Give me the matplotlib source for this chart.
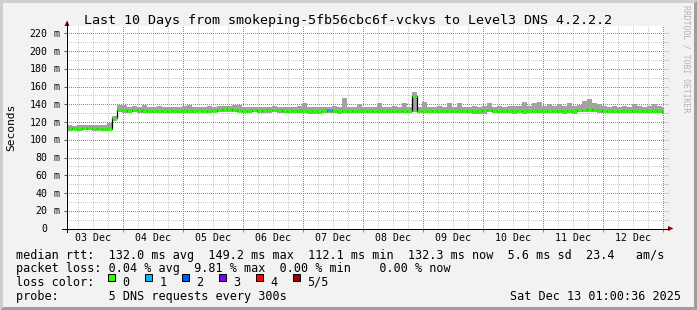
import numpy as np
import matplotlib
matplotlib.use("Agg")
import matplotlib.pyplot as plt
from matplotlib.patches import Polygon, Rectangle
from matplotlib import transforms

MONO = "DejaVu Sans Mono"
plt.rcParams["lines.scale_dashes"] = False

# ---- data ----
title = "Last 10 Days from smokeping-5fb56cbc6f-vckvs to Level3 DNS 4.2.2.2"

# hours after 03 Dec 00:00; one bin every 2 h
start_h = 1.5
step_h = 2.0
end_h = 240.3

median_ms = [
    113.0, 112.5, 112.5, 113.0, 113.5, 113.0, 112.5, 112.5, 112.5, 125.0,
    133.5, 133.5, 133.0, 133.5, 133.5, 133.0, 133.0, 132.5, 133.0, 133.0,
    132.5, 132.5, 132.0, 132.5, 132.5, 133.0, 133.0, 133.0, 133.0, 133.0,
    133.5, 134.5, 135.0, 134.0, 133.0, 133.0, 133.0, 133.5, 133.0, 133.5,
    133.5, 133.5, 133.5, 133.0, 133.0, 133.0, 133.0, 133.0, 132.5, 132.5,
    132.5, 132.5, 133.5, 133.0, 133.0, 133.0, 133.0, 133.0, 133.0, 132.5,
    133.0, 132.5, 132.5, 133.0, 132.5, 132.5, 133.0, 132.5, 133.0, 149.2,
    133.0, 133.0, 133.0, 133.0, 133.0, 133.0, 133.0, 133.0, 133.0, 133.0,
    132.5, 132.5, 132.5, 134.0, 134.0, 132.5, 132.5, 132.5, 132.5, 132.5,
    132.5, 133.0, 133.0, 133.0, 133.0, 133.0, 133.0, 133.0, 133.0, 132.0,
    132.0, 132.0, 134.0, 134.0, 134.5, 134.0, 134.0, 132.5, 132.5, 132.5,
    132.5, 132.5, 132.5, 132.5, 132.5, 132.5, 133.0, 133.0, 133.0, 131.5,
]
smoke_hi = [
    116.5, 116.0, 116.5, 117.0, 116.5, 117.0, 116.5, 117.0, 119.5, 127.0,
    139.5, 139.0, 137.5, 138.0, 137.5, 139.0, 137.5, 137.0, 138.0, 137.5,
    137.0, 137.5, 137.0, 138.0, 139.0, 137.5, 137.0, 137.5, 138.0, 137.5,
    138.0, 138.5, 138.5, 139.5, 139.0, 137.5, 137.0, 137.5, 137.0, 137.5,
    137.5, 138.0, 137.0, 137.5, 137.0, 137.5, 138.0, 141.5, 137.5, 137.0,
    137.5, 137.0, 137.5, 138.0, 137.5, 147.0, 137.5, 137.0, 140.5, 137.5,
    137.0, 137.5, 141.0, 137.5, 137.0, 138.0, 137.5, 141.0, 137.5, 154.0,
    137.5, 143.0, 137.5, 137.0, 138.0, 137.5, 141.5, 137.5, 141.0, 137.5,
    137.0, 138.5, 137.5, 138.0, 141.0, 137.5, 138.0, 137.5, 138.5, 138.0,
    138.0, 142.5, 138.5, 141.5, 142.5, 138.5, 140.5, 138.0, 140.5, 138.5,
    141.5, 138.5, 139.0, 144.0, 145.5, 141.5, 140.5, 138.0, 137.5, 138.0,
    137.5, 138.0, 137.5, 140.5, 138.0, 137.5, 138.0, 140.5, 138.0, 137.5,
]
smoke_lo = [
    110.0, 110.5, 110.0, 110.5, 110.5, 110.0, 110.5, 110.0, 110.5, 121.5,
    131.0, 130.5, 130.5, 131.0, 130.5, 130.0, 130.0, 130.5, 130.0, 130.5,
    130.5, 130.0, 130.5, 130.0, 130.5, 130.5, 131.0, 130.5, 130.5, 131.0,
    131.0, 131.5, 131.5, 131.0, 131.0, 130.5, 130.5, 131.0, 130.5, 130.5,
    130.5, 131.0, 130.5, 130.0, 130.0, 130.5, 130.0, 130.5, 129.5, 129.5,
    129.5, 130.0, 130.5, 130.5, 129.5, 130.5, 130.0, 130.5, 130.5, 130.0,
    130.5, 130.0, 130.5, 130.0, 130.5, 130.5, 130.0, 130.5, 130.0, 131.0,
    130.5, 130.5, 130.0, 130.5, 130.5, 130.0, 130.5, 130.5, 130.0, 130.5,
    130.0, 129.0, 129.0, 129.5, 131.0, 130.0, 130.0, 130.5, 130.0, 129.5,
    130.0, 129.0, 130.0, 130.5, 130.5, 130.0, 130.5, 130.5, 130.0, 129.5,
    130.0, 129.5, 131.0, 131.5, 131.0, 131.0, 130.5, 130.0, 130.0, 130.5,
    130.0, 130.5, 130.0, 130.0, 130.5, 130.0, 130.0, 130.5, 130.0, 129.5,
]
lost_pings = {52: 1}   # bin index -> lost pings out of 5

day_labels = ["03 Dec", "04 Dec", "05 Dec", "06 Dec", "07 Dec",
              "08 Dec", "09 Dec", "10 Dec", "11 Dec", "12 Dec"]
y_ticks = [0, 20, 40, 60, 80, 100, 120, 140, 160, 180, 200, 220]

loss_colors = ["#26ff00", "#00b8ff", "#0059ff", "#7e00ff", "#ff0000", "#a10000"]
loss_names = ["0", "1", "2", "3", "4", "5/5"]

legend_lines = [
    "median rtt:  132.0 ms avg  149.2 ms max  112.1 ms min  132.3 ms now  5.6 ms sd  23.4   am/s",
    "packet loss: 0.04 % avg  9.81 % max  0.00 % min    0.00 % now",
    "loss color:",
    "probe:       5 DNS requests every 300s",
]
stamp = "Sat Dec 13 01:00:36 2025"

# ---- figure, pixel layout ----
W, H = 697, 310
X0, X1, Y0, Y1 = 67, 664, 228.5, 26

fig = plt.figure(figsize=(W / 100, H / 100), dpi=100)

bg = fig.add_axes([0, 0, 1, 1], zorder=0)
bg.set_xlim(0, W)
bg.set_ylim(H, 0)
bg.axis("off")
bg.add_patch(Rectangle((0, 0), W, H, fc="#9e9e9e", lw=0, antialiased=False))
bg.add_patch(Polygon([(0, 0), (W, 0), (W - 3, 3), (3, 3), (3, H - 3), (0, H)],
                     fc="#cfcfcf", lw=0, antialiased=False))
bg.add_patch(Rectangle((3, 3), W - 6, H - 6, fc="#f2f2f2", lw=0, antialiased=False))

ax = fig.add_axes([X0 / W, 1 - Y0 / H, (X1 - X0) / W, (Y0 - Y1) / H], zorder=1)
ax.set_facecolor("white")
ax.set_xlim(start_h, end_h)
ax.set_ylim(0, 228.3)
for s in ax.spines.values():
    s.set_visible(False)

ax.set_xticks(np.arange(24, 241, 24))
ax.set_yticks(y_ticks)
ax.tick_params(which="both", labelbottom=False, labelleft=False)
ax.tick_params(axis="y", which="major", direction="out", length=2.5, width=0.72, color="#606060")
ax.tick_params(axis="x", which="major", direction="out", length=1.8, width=0.72, color="#909090")

# dotted grid, 1 px on / 1 px off
dots = (0.36, (0.72, 0.72))
minor_x = [h for h in range(6, 241, 6) if h % 24]
minor_y = list(range(10, 221, 20))
for h in minor_x:
    ax.axvline(h, color="#c8c8c8", ls=dots, lw=0.72, zorder=0.5)
for v in minor_y:
    ax.axhline(v, color="#c8c8c8", ls=dots, lw=0.72, zorder=0.5)
for h in range(24, 241, 24):
    ax.axvline(h, color="#ff5a5a", ls=dots, lw=0.72, zorder=0.6)
for v in y_ticks[1:]:
    ax.axhline(v, color="#ff5a5a", ls=dots, lw=0.72, zorder=0.6)

# short marks right of the plot
ax.hlines(np.arange(10, 221, 10), 1.0, 1.0 + 4 / (X1 - X0), transform=ax.get_yaxis_transform(),
          clip_on=False, color="#c8c8c8", lw=0.72)

# smoke + median
t = start_h + step_h * np.arange(len(median_ms))
hi = np.array(smoke_hi)
lo = np.array(smoke_lo)
ax.bar(t, hi - lo, bottom=lo, width=step_h, align="edge", color="#a2a2a2", lw=0, zorder=2)
ax.step(np.append(t, t[-1] + step_h), np.append(median_ms, median_ms[-1]), where="post",
        color="black", lw=0.9, zorder=3)
cols = [loss_colors[lost_pings.get(i, 0)] for i in range(len(median_ms))]
ax.hlines(median_ms, t, t + step_h, colors=cols, lw=1.9, zorder=4)

# ---- front layer: axes lines, arrows, texts ----
fa = fig.add_axes([0, 0, 1, 1], zorder=3)
fa.patch.set_visible(False)
fa.set_xlim(0, W)
fa.set_ylim(H, 0)
fa.axis("off")

fa.plot([62, 668], [Y0, Y0], color="black", lw=0.72)
fa.plot([X0, X0], [232, 22], color="black", lw=0.72)
fa.add_patch(Polygon([(64.5, 26), (69.5, 26), (67, 20.5)], fc="#8b0000", lw=0))
fa.add_patch(Polygon([(668, 226), (668, 231), (673.5, 228.5)], fc="#8b0000", lw=0))

ylab_tr = transforms.offset_copy(transforms.blended_transform_factory(fa.transData, ax.transData),
                                 fig=fig, x=0, y=-3.6, units="dots")
for v in y_ticks:
    fa.text(47.6, v, str(v), transform=ylab_tr, ha="right", va="baseline",
            family=MONO, size=7.1)
    if v:
        fa.text(53.2, v, "m", transform=ylab_tr, ha="left", va="baseline",
                family=MONO, size=7.1)

xlab_tr = transforms.blended_transform_factory(ax.transData, fa.transData)
for i, lab in enumerate(day_labels):
    fa.text(12 + 24 * i, 241, lab, transform=xlab_tr, ha="center", va="baseline",
            family=MONO, size=7.1)

fa.text(W / 2, 24, title, ha="center", va="baseline", family=MONO, size=9.6)
fa.text(11, 127, "Seconds", rotation=90, ha="center", va="center", family=MONO, size=8.1)
fa.text(686, 5, "RRDTOOL / TOBI OETIKER", rotation=270, ha="center", va="top",
        family=MONO, size=5.9, color="#b4b4b4")

for line, yb in zip(legend_lines, [258.5, 272.2, 285.9, 299.6]):
    fa.text(15.5, yb, line, ha="left", va="baseline", family=MONO, size=8.5)
fa.text(681, 299.6, stamp, ha="right", va="baseline", family=MONO, size=8.5)

for i, (c, name) in enumerate(zip(loss_colors, loss_names)):
    fa.add_patch(Rectangle((108 + 37 * i, 274), 7, 7, fc=c, ec="black", lw=0.72))
    fa.text(122.3 + 37 * i, 285.9, name, ha="left", va="baseline", family=MONO, size=8.5)

fig.savefig("out.png", dpi=100)
